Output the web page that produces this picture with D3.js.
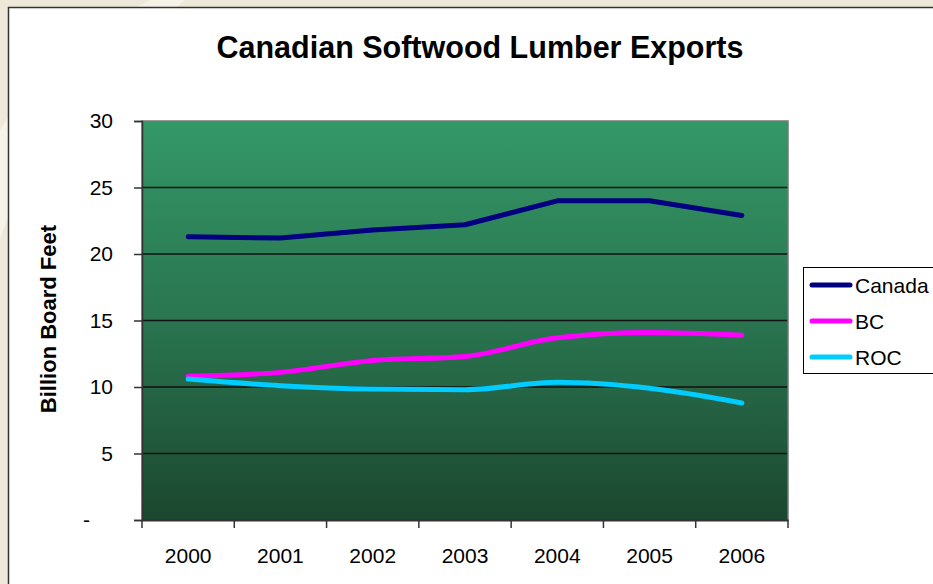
<!DOCTYPE html>
<html>
<head>
<meta charset="utf-8">
<script src="https://cdn.jsdelivr.net/npm/d3@7"></script>
<style>
  body { margin: 0; background: #ede8d9; overflow: hidden; }
  svg { display: block; font-family: "Liberation Sans", Arial, sans-serif; }
</style>
</head>
<body>
<div id="main"></div>
<script>
var years = ["2000", "2001", "2002", "2003", "2004", "2005", "2006"];
var canadaValues = [21.3, 21.2, 21.8, 22.2, 24.0, 24.0, 22.9];
var bcValues = [10.8, 11.1, 12.0, 12.3, 13.7, 14.1, 13.9];
var rocValues = [10.6, 10.1, 9.85, 9.8, 10.35, 9.9, 8.8];
var yTicks = [0, 5, 10, 15, 20, 25, 30];

var seriesNames = ["Canada", "BC", "ROC"];
var seriesColors = ["#000080", "#ff00ff", "#00ccff"];
var seriesValues = [canadaValues, bcValues, rocValues];

var width = 933, height = 584;
var margin = { top: 121, right: 145, bottom: 64, left: 142 };
var plotW = width - margin.left - margin.right;
var plotH = height - margin.top - margin.bottom;

var svg = d3.select("#main")
    .append("svg")
    .attr("width", width)
    .attr("height", height);

// background swirl on the slide
svg.append("path")
    .attr("d", "M185,0 C140,40 40,120 0,240 L0,130 C30,80 90,30 150,0 Z")
    .attr("fill", "#f5f2e8");

// white panel
svg.append("rect")
    .attr("x", 8.5).attr("y", 7.5)
    .attr("width", 940).attr("height", 600)
    .attr("fill", "#ffffff")
    .attr("stroke", "#333")
    .attr("stroke-width", 1.5);

var defs = svg.append("defs");
var grad = defs.append("linearGradient")
    .attr("id", "plotGrad")
    .attr("x1", 0).attr("y1", 0).attr("x2", 0).attr("y2", 1);
grad.append("stop").attr("offset", "0%").attr("stop-color", "#349867");
grad.append("stop").attr("offset", "50%").attr("stop-color", "#2a7550");
grad.append("stop").attr("offset", "100%").attr("stop-color", "#1b472f");

var g = svg.append("g")
    .attr("transform", "translate(" + margin.left + "," + margin.top + ")");

var x = d3.scaleBand().domain(years).range([0, plotW]);
var y = d3.scaleLinear().domain([0, 30]).range([plotH, 0]);

g.append("rect")
    .attr("width", plotW).attr("height", plotH)
    .attr("fill", "url(#plotGrad)");

// gridlines
g.selectAll(".grid")
    .data(yTicks.filter(function (d) { return d > 0 && d < 30; }))
    .enter().append("line")
    .attr("x1", 0).attr("x2", plotW)
    .attr("y1", function (d) { return y(d); })
    .attr("y2", function (d) { return y(d); })
    .attr("stroke", "#111")
    .attr("stroke-width", 1.5);

// plot border
g.append("path")
    .attr("d", "M0," + plotH + "V0H" + plotW + "V" + plotH)
    .attr("fill", "none")
    .attr("stroke", "#777")
    .attr("stroke-width", 1.5);

// y axis
var yAxis = g.append("g")
    .call(d3.axisLeft(y).tickValues(yTicks).tickSize(8).tickPadding(21)
        .tickFormat(function (d) { return d === 0 ? "-" : d; }));
yAxis.select(".domain").attr("stroke", "#333").attr("stroke-width", 1.5);
yAxis.selectAll(".tick line").attr("stroke", "#333").attr("stroke-width", 1.5);
yAxis.selectAll("text")
    .attr("font-size", 21).attr("fill", "#000")
    .attr("font-family", "Liberation Sans, Arial, sans-serif");
yAxis.selectAll(".tick").filter(function (d) { return d === 0; })
    .select("text").attr("x", -52);

// x axis
var xAxis = g.append("g")
    .attr("transform", "translate(0," + plotH + ")")
    .call(d3.axisBottom(x).tickSize(0).tickPadding(28));
xAxis.select(".domain").attr("stroke", "#333").attr("stroke-width", 2);
xAxis.selectAll("text")
    .attr("font-size", 21).attr("fill", "#000")
    .attr("font-family", "Liberation Sans, Arial, sans-serif");
// category boundary ticks
xAxis.selectAll(".bound")
    .data(years.concat(["end"]))
    .enter().append("line")
    .attr("x1", function (d, i) { return i * x.step(); })
    .attr("x2", function (d, i) { return i * x.step(); })
    .attr("y1", 0).attr("y2", 8)
    .attr("stroke", "#333").attr("stroke-width", 1.5);

// series lines
var curves = [d3.curveLinear, d3.curveMonotoneX, d3.curveMonotoneX];
seriesValues.forEach(function (vals, i) {
    var line = d3.line()
        .x(function (d, j) { return x(years[j]) + x.bandwidth() / 2; })
        .y(function (d) { return y(d); })
        .curve(curves[i]);
    g.append("path")
        .datum(vals)
        .attr("d", line)
        .attr("fill", "none")
        .attr("stroke", seriesColors[i])
        .attr("stroke-width", 5)
        .attr("stroke-linecap", "round")
        .attr("stroke-linejoin", "round");
});

// title
svg.append("text")
    .attr("x", 480).attr("y", 58)
    .attr("text-anchor", "middle")
    .attr("font-size", 30.5).attr("font-weight", "bold")
    .text("Canadian Softwood Lumber Exports");

// y label
svg.append("text")
    .attr("transform", "translate(56,319) rotate(-90)")
    .attr("text-anchor", "middle")
    .attr("font-size", 22).attr("font-weight", "bold")
    .text("Billion Board Feet");

// legend
var legend = svg.append("g").attr("transform", "translate(803,267)");
legend.append("rect")
    .attr("x", 0.5).attr("y", 0.5)
    .attr("width", 150).attr("height", 106)
    .attr("fill", "#fff")
    .attr("stroke", "#000").attr("stroke-width", 1);
seriesNames.forEach(function (name, i) {
    var ly = 18 + i * 36;
    legend.append("line")
        .attr("x1", 9).attr("x2", 47)
        .attr("y1", ly).attr("y2", ly)
        .attr("stroke", seriesColors[i])
        .attr("stroke-width", 5)
        .attr("stroke-linecap", "round");
    legend.append("text")
        .attr("x", 52).attr("y", ly + 8)
        .attr("font-size", 21)
        .text(name);
});
</script>
</body>
</html>
